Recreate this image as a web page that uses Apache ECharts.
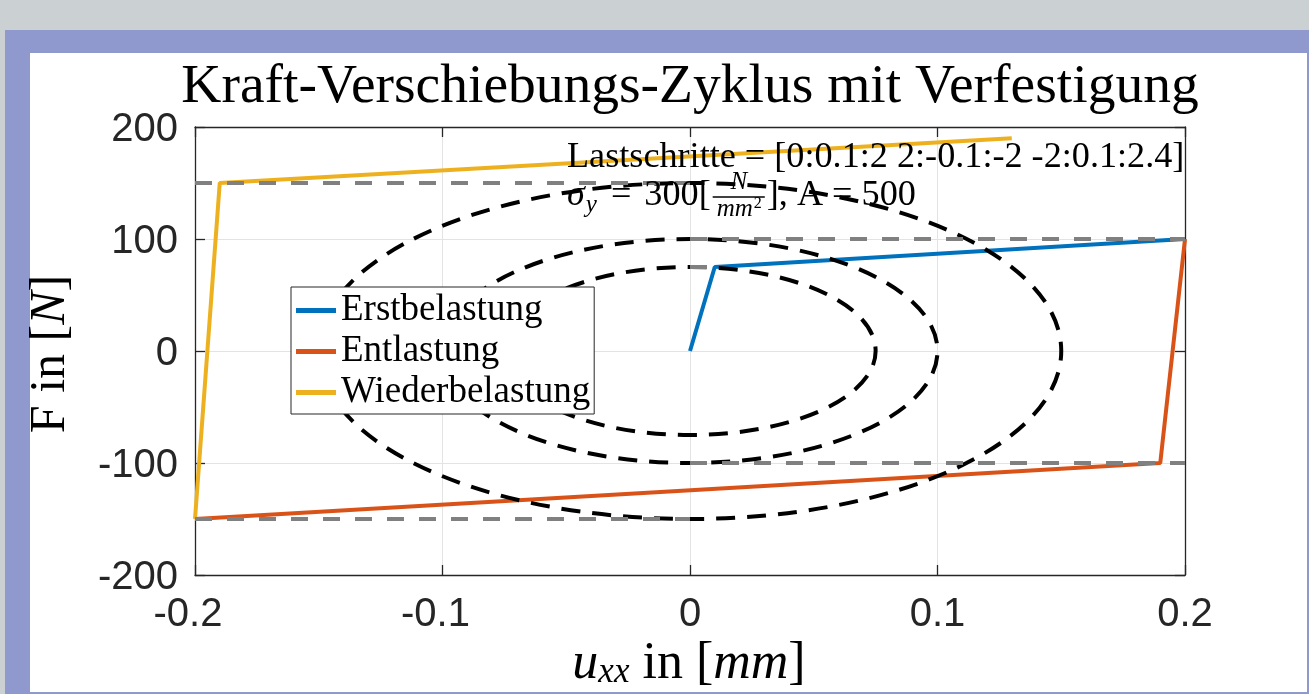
<!DOCTYPE html>
<html>
<head>
<meta charset="utf-8">
<script src="https://cdn.jsdelivr.net/npm/echarts@6/dist/echarts.min.js"></script>
<style>
  html, body { margin: 0; padding: 0; background: #cbd0d3; }
  #chart { width: 1309px; height: 694px; }
</style>
</head>
<body>
<div id="chart"></div>
<script>
// Load path: initial loading, unloading and reloading (u in mm, F in N)
const erstU = [0, 0.01, 0.2];
const erstF = [0, 75, 100];
const entU = [0.2, 0.19, -0.2];
const entF = [100, -100, -150];
const wiederU = [-0.2, -0.19, 0.13];
const wiederF = [-150, 150, 190];

// Yield surfaces centred at the origin: half-axes in u and F
const ellipseRU = [0.075, 0.1, 0.15];
const ellipseRF = [75, 100, 150];

// Horizontal yield-level guides: level F, from u0 to u1
const guideF = [75, 100, -100, 150, -150];
const guideU0 = [0, 0, 0, -0.2, -0.2];
const guideU1 = [0.01, 0.2, 0.2, 0, 0];

// Axis ranges and tick spacing
const xRange = [-0.2, 0.2];
const xStep = 0.1;
const yRange = [-200, 200];
const yStep = 100;

const seriesNames = ['Erstbelastung', 'Entlastung', 'Wiederbelastung'];
const seriesColors = ['#0072BD', '#D95319', '#EDB120'];

const SERIF = '"Liberation Serif", "Times New Roman", serif';
const SANS = '"Liberation Sans", Arial, Helvetica, sans-serif';

const chart = echarts.init(document.getElementById('chart'), null, { renderer: 'canvas' });

function pairs(us, fs) { return us.map((u, i) => [u, fs[i]]); }

const pathSeries = [[erstU, erstF], [entU, entF], [wiederU, wiederF]].map((d, i) => ({
  name: seriesNames[i],
  type: 'line',
  data: pairs(d[0], d[1]),
  showSymbol: false,
  symbol: 'none',
  z: 2,
  lineStyle: { color: seriesColors[i], width: 4 },
  itemStyle: { color: seriesColors[i] },
  animation: false
}));

const ellipseSeries = {
  name: 'Fliessflaechen',
  type: 'custom',
  z: 3,
  data: ellipseRU.map((r, i) => [0, 0, r, ellipseRF[i]]),
  encode: { x: 0, y: 1 },
  renderItem: function (params, api) {
    const c = api.coord([api.value(0), api.value(1)]);
    const s = api.size([api.value(2), api.value(3)]);
    return {
      type: 'ellipse',
      shape: { cx: c[0], cy: c[1], rx: s[0], ry: s[1] },
      style: { fill: 'none', stroke: '#000000', lineWidth: 4, lineDash: [19, 12] }
    };
  },
  animation: false
};

const guideSeries = guideF.map((f, i) => ({
  name: 'guide' + i,
  type: 'line',
  data: [[guideU0[i], f], [guideU1[i], f]],
  showSymbol: false,
  symbol: 'none',
  z: 4,
  lineStyle: { color: '#808080', width: 4, type: [17, 15] },
  animation: false
}));

// Text helpers for the parameter annotation
const mctx = document.createElement('canvas').getContext('2d');
function tw(text, size, italic) {
  mctx.font = (italic ? 'italic ' : '') + size + 'px ' + SERIF;
  return mctx.measureText(text).width;
}
function txt(text, x, baseline, size, italic, extra) {
  return Object.assign({
    type: 'text',
    z: 20,
    silent: true,
    style: {
      text: text,
      x: x,
      y: baseline - 0.3375 * size,
      fontSize: size,
      fontFamily: SERIF,
      fontStyle: italic ? 'italic' : 'normal',
      fill: '#000000',
      align: 'left', textAlign: 'left',
      verticalAlign: 'middle', textVerticalAlign: 'middle'
    }
  }, extra || {});
}

const annX = 567;
const line1Base = 170;
const line2Base = 208;
const big = 36.2, sub = 25, fr = 25, sup = 16;
const mathGap = 13;

const annotation = [];
annotation.push(txt('Lastschritte = [0:0.1:2 2:-0.1:-2 -2:0.1:2.4]', annX, line1Base, big, false));
let cx = annX;
annotation.push(txt('σ', cx, line2Base, big, true)); cx += tw('σ', big, true);
annotation.push(txt('y', cx + 1, line2Base + 6, sub, true)); cx += tw('y', sub, true) + 2 + mathGap;
annotation.push(txt('=', cx, line2Base, big, false)); cx += tw('=', big, false) + mathGap;
annotation.push(txt('300[', cx, line2Base, big, false)); cx += tw('300[', big, false);
const numW = tw('N', fr, true);
const denW = tw('mm', fr, true) + tw('2', sup, false);
const fracW = Math.max(numW, denW) + 12;
annotation.push(txt('N', cx + (fracW - numW) / 2, line2Base - 17, fr, true));
annotation.push({
  type: 'line', z: 20, silent: true,
  shape: { x1: cx + 2, y1: line2Base - 11, x2: cx + fracW - 2, y2: line2Base - 11 },
  style: { stroke: '#000000', lineWidth: 1.3 }
});
const denX = cx + (fracW - denW) / 2;
annotation.push(txt('mm', denX, line2Base + 10, fr, true));
annotation.push(txt('2', denX + tw('mm', fr, true) + 1, line2Base + 1, sup, false));
cx += fracW;
annotation.push(txt('], A = 500', cx, line2Base, big, false));

// Negative tick values sit slightly left of their tick
function tickFmt(v) {
  return v < 0 ? '{n|' + v + '}' : '{p|' + v + '}';
}
const xLabelRich = {
  n: { fontSize: 40, fontFamily: SANS, color: '#262626', padding: [0, 14, 0, 0] },
  p: { fontSize: 40, fontFamily: SANS, color: '#262626' }
};
function yTickFmt(v) { return '{a|' + v + '}'; }
const yLabelRich = {
  a: { fontSize: 40, fontFamily: SANS, color: '#262626', padding: [6, 0, 0, 0] }
};

const option = {
  animation: false,
  backgroundColor: '#cbd0d3',
  grid: { left: 195, top: 127, width: 990, height: 448, containLabel: false },
  xAxis: [{
    type: 'value', min: xRange[0], max: xRange[1], interval: xStep,
    position: 'bottom',
    axisLine: { show: true, onZero: false, lineStyle: { color: '#262626', width: 1.3 } },
    axisTick: { show: true, inside: true, length: 10, lineStyle: { color: '#262626', width: 1.3 } },
    axisLabel: { margin: 20, fontSize: 40, fontFamily: SANS, color: '#262626', formatter: tickFmt, rich: xLabelRich },
    splitLine: { show: true, lineStyle: { color: '#e3e3e3', width: 1 } }
  }, {
    type: 'value', min: xRange[0], max: xRange[1], interval: xStep,
    position: 'top',
    axisLine: { show: true, onZero: false, lineStyle: { color: '#262626', width: 1.3 } },
    axisTick: { show: true, inside: true, length: 10, lineStyle: { color: '#262626', width: 1.3 } },
    axisLabel: { show: false },
    splitLine: { show: false }
  }],
  yAxis: [{
    type: 'value', min: yRange[0], max: yRange[1], interval: yStep,
    position: 'left',
    axisLine: { show: true, onZero: false, lineStyle: { color: '#262626', width: 1.3 } },
    axisTick: { show: true, inside: true, length: 10, lineStyle: { color: '#262626', width: 1.3 } },
    axisLabel: { margin: 17, fontSize: 40, fontFamily: SANS, color: '#262626', formatter: yTickFmt, rich: yLabelRich },
    splitLine: { show: true, lineStyle: { color: '#e3e3e3', width: 1 } }
  }, {
    type: 'value', min: yRange[0], max: yRange[1], interval: yStep,
    position: 'right',
    axisLine: { show: true, onZero: false, lineStyle: { color: '#262626', width: 1.3 } },
    axisTick: { show: true, inside: true, length: 10, lineStyle: { color: '#262626', width: 1.3 } },
    axisLabel: { show: false },
    splitLine: { show: false }
  }],
  legend: {
    data: seriesNames,
    orient: 'vertical',
    left: 291, top: 287,
    padding: [5, 4, 3, 5],
    itemGap: 4,
    itemWidth: 40,
    itemHeight: 5,
    icon: 'rect',
    backgroundColor: '#ffffff',
    borderColor: '#262626',
    borderWidth: 1,
    borderRadius: 0,
    z: 10,
    selectedMode: false,
    textStyle: { fontFamily: SERIF, fontSize: 37, color: '#000000', lineHeight: 35 }
  },
  graphic: {
    elements: [
      { type: 'rect', z: -100, silent: true, shape: { x: 5, y: 30, width: 1304, height: 664 }, style: { fill: '#8f99cd' } },
      { type: 'rect', z: -99, silent: true, shape: { x: 30, y: 53, width: 1277, height: 639 }, style: { fill: '#ffffff' } },
      {
        type: 'text', z: 20, silent: true,
        style: {
          text: 'Kraft-Verschiebungs-Zyklus mit Verfestigung',
          x: 690, y: 87, fontSize: 55.5, fontFamily: SERIF, fill: '#000000',
          align: 'center', textAlign: 'center', verticalAlign: 'middle', textVerticalAlign: 'middle'
        }
      },
      {
        type: 'text', z: 20, silent: true,
        style: {
          x: 689, y: 664,
          text: '{i|u}{s|xx}{r| in [}{i|mm}{r|]}',
          align: 'center', textAlign: 'center', verticalAlign: 'middle', textVerticalAlign: 'middle',
          fill: '#000000',
          rich: {
            i: { fontFamily: SERIF, fontSize: 52, fontStyle: 'italic', fill: '#000000', lineHeight: 60 },
            s: { fontFamily: SERIF, fontSize: 35, fontStyle: 'italic', fill: '#000000', lineHeight: 60, padding: [17, 0, 0, 0] },
            r: { fontFamily: SERIF, fontSize: 52, fill: '#000000', lineHeight: 60 }
          }
        }
      },
      {
        type: 'text', z: 20, silent: true,
        x: 51, y: 354, rotation: Math.PI / 2,
        style: {
          x: 0, y: 0,
          text: '{r|F in [}{i|N}{r|]}',
          align: 'center', textAlign: 'center', verticalAlign: 'middle', textVerticalAlign: 'middle',
          fill: '#000000',
          rich: {
            i: { fontFamily: SERIF, fontSize: 50, fontStyle: 'italic', fill: '#000000' },
            r: { fontFamily: SERIF, fontSize: 50, fill: '#000000' }
          }
        }
      }
    ].concat(annotation)
  },
  series: pathSeries.concat([ellipseSeries]).concat(guideSeries)
};

chart.setOption(option);
</script>
</body>
</html>
